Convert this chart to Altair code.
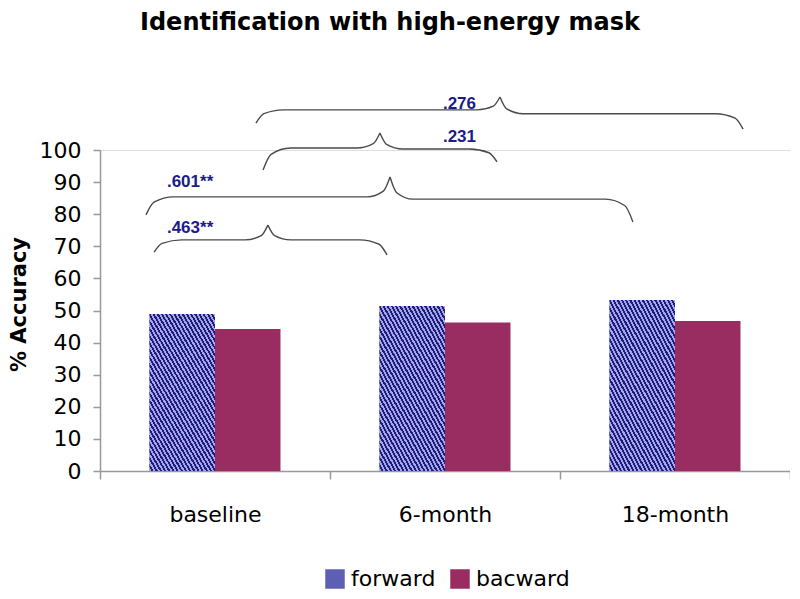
import altair as alt
import pandas as pd

categories = ["baseline", "6-month", "18-month"]
series = ["forward", "bacward"]
forward = [48.9, 51.4, 53.3]
bacward = [44.2, 46.3, 46.7]

# comparison braces (x in category units 0..3, y in % units)
brace_labels = [".463**", ".601**", ".231", ".276"]
brace_left_x = [0.235, 0.200, 0.709, 0.678]
brace_left_end_y = [68.2, 79.8, 93.8, 108.4]
brace_line_left_y = [72.0, 85.4, 100.6, 112.5]
brace_peak_x = [0.730, 1.261, 1.217, 1.739]
brace_peak_y = [76.6, 91.6, 105.3, 116.5]
brace_line_right_y = [72.0, 84.7, 100.3, 111.3]
brace_right_x = [1.248, 2.317, 1.726, 2.796]
brace_right_end_y = [67.3, 77.6, 96.3, 106.5]
label_x = [0.291, 0.291, 1.491, 1.491]
label_y = [75.7, 90.0, 104.0, 114.4]

bars_df = pd.DataFrame({
    "category": categories * 2,
    "series": ["forward"] * 3 + ["bacward"] * 3,
    "value": forward + bacward,
})

# brace outline nodes
d_end, d_peak = 0.12, 0.10
rows = []
for i in range(len(brace_labels)):
    xl, yel, lyl = brace_left_x[i], brace_left_end_y[i], brace_line_left_y[i]
    xp, yp = brace_peak_x[i], brace_peak_y[i]
    xr, yer, lyr = brace_right_x[i], brace_right_end_y[i], brace_line_right_y[i]
    left = [
        (xl, yel),
        (xl + 0.29 * d_end, lyl - 0.29 * (lyl - yel)),
        (xl + d_end, lyl),
        (xp - d_peak, lyl),
        (xp - 0.29 * d_peak, lyl + 0.29 * (yp - lyl)),
        (xp, yp),
    ]
    right = [
        (xp, yp),
        (xp + 0.29 * d_peak, lyr + 0.29 * (yp - lyr)),
        (xp + d_peak, lyr),
        (xr - d_end, lyr),
        (xr - 0.29 * d_end, lyr - 0.29 * (lyr - yer)),
        (xr, yer),
    ]
    for s, pts in (("L", left), ("R", right)):
        for k, (u, v) in enumerate(pts):
            rows.append({"seg": f"{i}{s}", "ord": k, "u": u, "value": v})
brace_df = pd.DataFrame(rows)
label_df = pd.DataFrame({"u": label_x, "value": label_y, "text": brace_labels})

# hatch gradient for the forward bars
stops = []
n = 46
for j in range(n):
    a = j / n
    b = (j + 0.5) / n
    c = (j + 1) / n
    stops += [
        alt.GradientStop(offset=a, color="#a4a4f2"),
        alt.GradientStop(offset=b, color="#a4a4f2"),
        alt.GradientStop(offset=b, color="#1e1e74"),
        alt.GradientStop(offset=c, color="#1e1e74"),
    ]
hatch = alt.LinearGradient(gradient="linear", stops=stops, x1=0, y1=1, x2=1, y2=-0.39)

font = "DejaVu Sans"
yscale = alt.Scale(domain=[0, 100], nice=False, zero=True)
yaxis = alt.Axis(values=list(range(0, 101, 10)), title="% Accuracy",
                 grid=False, tickSize=7, labelPadding=12,
                 labelFont=font, labelFontSize=22, labelColor="#000000",
                 titleFont=font, titleFontSize=21, titleFontWeight="bold",
                 titleColor="#000000", titleX=-71, titleY=154,
                 domainColor="#999999", tickColor="#999999",
                 domainWidth=1.5, tickWidth=1.5)
yenc = alt.Y("value:Q", scale=yscale, axis=yaxis)

xband = alt.X(
    "category:N", sort=categories,
    scale=alt.Scale(paddingInner=0, paddingOuter=0),
    axis=alt.Axis(title=None, labelAngle=0, tickBand="extent", tickSize=8,
                  labelFont=font, labelFontSize=22, labelColor="#000000",
                  labelPadding=25, domainColor="#999999", tickColor="#999999",
                  domainWidth=1.5, tickWidth=1.5),
)
xoff = alt.XOffset("series:N", sort=series,
                   scale=alt.Scale(domain=series, paddingOuter=0.756, paddingInner=0))

bars = alt.Chart(bars_df).mark_bar().encode(
    x=xband,
    xOffset=xoff,
    y=yenc,
    color=alt.Color("series:N", sort=series,
                    scale=alt.Scale(domain=series, range=["#5e5eb4", "#992d62"]),
                    legend=alt.Legend(title=None, orient="none", legendX=224, legendY=418,
                                      direction="horizontal", symbolType="square",
                                      symbolSize=380, symbolStrokeWidth=0,
                                      labelFont=font, labelFontSize=22,
                                      labelColor="#000000", columnPadding=13,
                                      labelOffset=5)),
)

hatched = alt.Chart(bars_df).transform_filter(alt.datum.series == "forward").mark_bar(
    fill=hatch
).encode(
    x=xband,
    xOffset=xoff,
    y=yenc,
)

bar_part = alt.layer(bars, hatched)

xq = alt.X("u:Q", scale=alt.Scale(domain=[0, 3], nice=False, zero=False), axis=None)

braces = alt.Chart(brace_df).mark_line(
    interpolate="monotone", color="#4a4a4a", strokeWidth=1.4
).encode(
    x=xq,
    y=yenc,
    detail="seg:N",
    order="ord:Q",
)

labels = alt.Chart(label_df).mark_text(
    align="left", baseline="middle", font="Liberation Sans", fontWeight="bold",
    fontSize=17, color="#1b1b8a"
).encode(
    x=xq,
    y=yenc,
    text="text:N",
)

chart = alt.layer(bar_part, braces, labels).resolve_scale(
    x="independent"
).properties(
    width=690,
    height=321,
    padding={"left": 92, "top": 142, "right": 0, "bottom": 125},
    autosize=alt.AutoSizeParams(type="none"),
    title=alt.TitleParams(
        "Identification with high-energy mask", font=font, fontSize=24,
        fontWeight="bold", color="#000000", anchor="start", frame="group",
        dx=40, dy=11, offset=70, baseline="top",
    ),
).configure_view(strokeWidth=0).configure(background="white")

chart.save("out.html", embed_options={"renderer": "svg", "actions": False})
